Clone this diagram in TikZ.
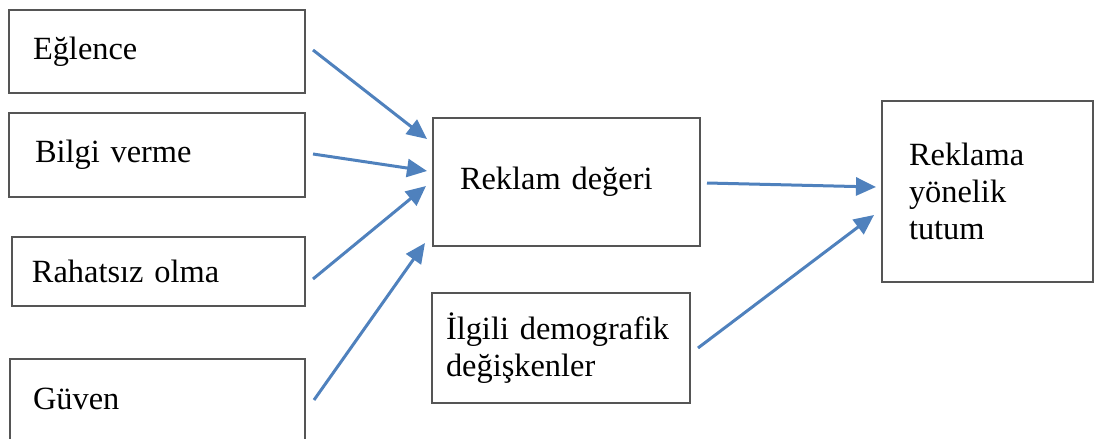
\documentclass[tikz,border=0pt]{standalone}
\usepackage{fontspec}
\setmainfont{Liberation Serif}
\usetikzlibrary{arrows.meta,positioning}
\definecolor{arrowblue}{RGB}{79,129,189}
\definecolor{boxgray}{RGB}{85,85,85}

\begin{document}
\begin{tikzpicture}[x=0.5pt,y=-0.5pt,font=\fontsize{16.2}{18.5}\selectfont,
  boxnode/.style={rectangle,draw=boxgray,line width=1pt,align=left,inner ysep=0pt},
  flow/.style={-{Triangle[length=10pt,width=9pt]},draw=arrowblue,line width=1.5pt}]
	\useasboundingbox (0,0) rectangle (1094,439);
	% left column
	\node[boxnode, minimum width=148pt, minimum height=41.5pt, text width=124pt, inner xsep=12pt] (eglence) at (157,51.5) {Eğlence};
	\node[boxnode, minimum width=148pt, minimum height=42pt, text width=122pt, inner xsep=13pt] (bilgi) at (157,155) {Bilgi verme};
	\node[boxnode, minimum width=146.5pt, minimum height=34.5pt, text width=126.5pt, inner xsep=10pt] (rahatsiz) at (158.5,271.5) {Rahatsız olma};
	\node[boxnode, minimum width=147.5pt, minimum height=50pt, text width=124.5pt, inner xsep=11.5pt, text depth=10pt] (guven) at (157.5,409) {Güven};
	% middle and right
	\node[boxnode, minimum width=133.5pt, minimum height=64pt, text width=106.5pt, inner xsep=13.5pt] (wert) at (566.5,182) {Reklam değeri};
	\node[boxnode, minimum width=129pt, minimum height=55pt, text width=115pt, inner xsep=7pt] (demog) at (561,348) {İlgili demografik\\değişkenler};
	\node[boxnode, minimum width=105.5pt, minimum height=90.5pt, text width=78.5pt, inner xsep=13.5pt] (tutum) at (987.5,191.5) {Reklama\\yönelik\\tutum};
	% arrows
	\draw[flow] ([xshift=3.5pt,yshift=0.75pt]eglence.east) -- ([xshift=-2.5pt,yshift=21.5pt]wert.west);
	\draw[flow] ([xshift=3.5pt,yshift=0.5pt]bilgi.east) -- ([xshift=-2.5pt,yshift=5.5pt]wert.west);
	\draw[flow] ([xshift=3.5pt,yshift=-3.75pt]rahatsiz.east) -- ([xshift=-3pt,yshift=-2pt]wert.west);
	\draw[flow] ([xshift=4pt,yshift=4.5pt]guven.east) -- ([xshift=-3.5pt,yshift=-30.5pt]wert.west);
	\draw[flow] ([xshift=3pt,yshift=-0.5pt]wert.east) -- ([xshift=-2.5pt,yshift=2.25pt]tutum.west);
	\draw[flow] ([xshift=3.5pt]demog.east) -- ([xshift=-3.5pt,yshift=-11.75pt]tutum.west);
\end{tikzpicture}
\end{document}
